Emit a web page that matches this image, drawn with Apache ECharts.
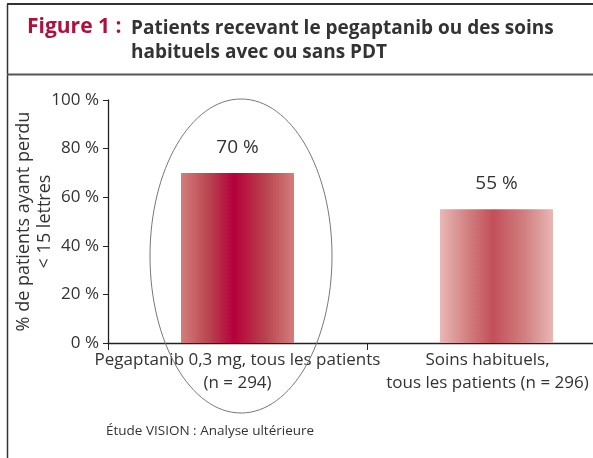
<!DOCTYPE html>
<html><head><meta charset="utf-8">
<script src="https://cdn.jsdelivr.net/npm/echarts@6/dist/echarts.min.js"></script>
<style>html,body{margin:0;padding:0;background:#fff}#c{width:593px;height:458px}</style>
</head><body><div id="c"></div>
<script>
const categories = ['Pegaptanib 0,3 mg, tous les patients\n(n = 294)', 'Soins habituels,\ntous les patients (n = 296)'];
const values = [70, 55];
const valueLabels = ['70 %', '55 %'];
const yTicks = [0, 20, 40, 60, 80, 100];
const figTitle = 'Figure 1 :';
const titleText = 'Patients recevant le pegaptanib ou des soins\nhabituels avec ou sans PDT';
const yName = '% de patients ayant perdu\n< 15 lettres';
const footnote = 'Étude VISION : Analyse ultérieure';

const font = '"Open Sans", "Noto Sans", sans-serif';
const grads = [
  ['#d47e7b', '#b8444f', '#b5003a', '#b8444f', '#d47e7b'],
  ['#e9b7b5', '#d17f80', '#c34f59', '#d17f80', '#e9b7b5']
];
function grad(c) {
  return new echarts.graphic.LinearGradient(0, 0, 1, 0, [
    {offset: 0, color: c[0]}, {offset: 0.25, color: c[1]}, {offset: 0.47, color: c[2]},
    {offset: 0.75, color: c[3]}, {offset: 1, color: c[4]}]);
}
const chart = echarts.init(document.getElementById('c'));
chart.setOption({
  animation: false,
  grid: {left: 108, top: 100, width: 518, height: 243, containLabel: false, outerBoundsMode: 'none'},
  xAxis: {
    type: 'category',
    data: categories.map((c, i) => i === 1 ? {value: c, textStyle: {padding: [0, 18, 0, 0]}} : c),
    axisLine: {lineStyle: {color: '#222', width: 1.3}},
    axisTick: {show: true, length: 7, lineStyle: {color: '#222'}},
    axisLabel: {fontFamily: font, fontSize: 17, color: '#333', lineHeight: 23, margin: 6, interval: 0}
  },
  yAxis: {
    type: 'value', min: 0, max: 100, interval: 20,
    splitLine: {show: false},
    axisLine: {show: true, lineStyle: {color: '#222', width: 1.3}},
    axisTick: {show: true, length: 5, lineStyle: {color: '#222'}},
    axisLabel: {fontFamily: font, fontSize: 17, color: '#333', margin: 9,
      formatter: v => yTicks.includes(v) ? v + ' %' : ''},
    name: yName, nameLocation: 'middle', nameGap: 53, nameRotate: 90, nameMoveOverlap: false,
    nameTextStyle: {fontFamily: font, fontSize: 18, color: '#333', lineHeight: 21}
  },
  series: [{
    type: 'bar', barWidth: 113,
    data: values.map((v, i) => ({value: v, itemStyle: {color: grad(grads[i])},
      label: {show: true, position: 'top', distance: 16, formatter: valueLabels[i],
        fontFamily: font, fontSize: 19, color: '#333'}}))
  }],
  graphic: [
    {type: 'line', shape: {x1: 7, y1: 4, x2: 593, y2: 4}, style: {stroke: '#333', lineWidth: 2}},
    {type: 'line', shape: {x1: 7.5, y1: 4, x2: 7.5, y2: 458}, style: {stroke: '#333', lineWidth: 1.5}},
    {type: 'line', shape: {x1: 7, y1: 74.5, x2: 593, y2: 74.5}, style: {stroke: '#555', lineWidth: 2}},
    {type: 'text', left: 27, top: 17, style: {text: figTitle, fill: '#b0103e',
      font: 'bold 21px ' + font}},
    {type: 'text', left: 131, top: 17, style: {text: titleText, fill: '#333',
      font: 'bold 19px ' + font, lineHeight: 24}},
    {type: 'text', left: 106, top: 424, style: {text: footnote, fill: '#333',
      font: '13.5px ' + font}},
    {type: 'ellipse', shape: {cx: 241, cy: 256, rx: 91, ry: 157}, silent: true, z: 10,
      style: {fill: 'none', stroke: '#777', lineWidth: 1}}
  ]
});
</script></body></html>
